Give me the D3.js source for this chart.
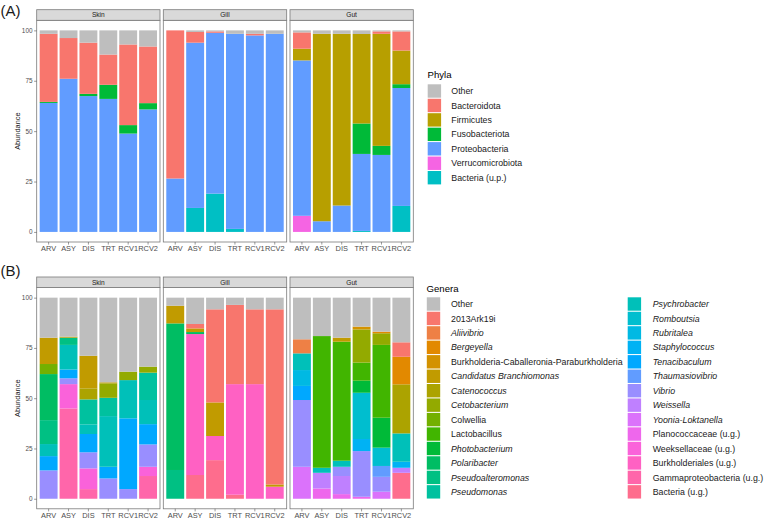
<!DOCTYPE html>
<html><head><meta charset="utf-8">
<script src="https://cdn.jsdelivr.net/npm/d3@7"></script>
<style>
body{margin:0;background:#fff}
svg{display:block;font-family:"Liberation Sans",Arial,Helvetica,sans-serif}
</style>
</head><body><svg id="chart" width="764" height="521"></svg>
<script>
// ---------------- DATA ----------------
const groups = ["ARV", "ASY", "DIS", "TRT", "RCV1", "RCV2"];
const organs = ["Skin", "Gill", "Gut"];
const yTicks = [0, 25, 50, 75, 100];

const phyla = ["Other", "Bacteroidota", "Firmicutes", "Fusobacteriota", "Proteobacteria", "Verrucomicrobiota", "Bacteria (u.p.)"];
// rows follow `phyla`, columns follow `groups`
const phylaSkin = [
  [1.7, 3.8, 6.1, 12, 7, 8],
  [33.8, 20.2, 25.4, 15, 40, 28.1],
  [0, 0, 0, 0, 0, 0],
  [0.5, 0, 1.1, 7, 4.2, 3.1],
  [64, 76, 67.4, 66, 48.8, 60.8],
  [0, 0, 0, 0, 0, 0],
  [0, 0, 0, 0, 0, 0]
];
const phylaGill = [
  [0, 0.8, 0.5, 1.7, 1.7, 1.7],
  [73.5, 5.3, 0.7, 0, 0.8, 0],
  [0, 0, 0, 0, 0, 0],
  [0, 0, 0, 0, 0, 0],
  [26.5, 82, 79.8, 96.8, 97.5, 98.3],
  [0, 0, 0, 0, 0, 0],
  [0, 11.9, 19, 1.5, 0, 0]
];
const phylaGut = [
  [1, 1.7, 1.7, 1.8, 0.5, 0.5],
  [8.1, 0, 0, 0, 1.2, 9.5],
  [5.8, 93, 85.2, 44.4, 55.6, 16.7],
  [0, 0, 0, 15.1, 4.5, 1.9],
  [77.1, 5.3, 13.1, 38.2, 38.2, 58.5],
  [8, 0, 0, 0, 0, 0],
  [0, 0, 0, 0.5, 0, 12.9]
];

const genera = ["Other", "2013Ark19i", "Aliivibrio", "Bergeyella", "Burkholderia-Caballeronia-Paraburkholderia",
  "Candidatus Branchiomonas", "Catenococcus", "Cetobacterium", "Colwellia", "Lactobacillus", "Photobacterium",
  "Polaribacter", "Pseudoalteromonas", "Pseudomonas", "Psychrobacter", "Romboutsia", "Rubritalea",
  "Staphylococcus", "Tenacibaculum", "Thaumasiovibrio", "Vibrio", "Weissella", "Yoonia-Loktanella",
  "Planococcaceae (u.g.)", "Weeksellaceae (u.g.)", "Burkholderiales (u.g.)", "Gammaproteobacteria (u.g.)", "Bacteria (u.g.)"];
const italicGenera = ["Aliivibrio", "Bergeyella", "Candidatus Branchiomonas", "Catenococcus", "Cetobacterium",
  "Photobacterium", "Polaribacter", "Pseudoalteromonas", "Pseudomonas", "Psychrobacter", "Romboutsia", "Rubritalea",
  "Staphylococcus", "Tenacibaculum", "Thaumasiovibrio", "Vibrio", "Weissella", "Yoonia-Loktanella"];

// rows follow `genera`, columns follow `groups`
const generaSkin = [
  [19.9, 19.4, 28.9, 42.1, 36.8, 34.3],
  [0, 0, 0, 0, 0, 0],
  [0, 0, 0, 0, 0, 0],
  [0, 0, 0, 0, 0, 0],
  [0, 0, 0, 0, 0, 0],
  [13.1, 0.5, 16.2, 0.5, 0, 0],
  [0, 0, 5.5, 0, 0, 0],
  [0, 0, 0, 7.2, 4.2, 3.0],
  [5.0, 0, 0, 0, 0, 0],
  [0, 0, 0, 0, 0, 0],
  [0, 0, 0, 0, 0, 0],
  [22.9, 0, 0, 0, 0, 0],
  [11.9, 3.6, 0, 0, 0, 0],
  [0, 0, 12.4, 9.1, 0, 13.6],
  [6.0, 12.2, 4.8, 25.2, 19.0, 12.0],
  [0, 0, 0, 0, 0, 0],
  [0, 0, 0, 0, 0, 0],
  [0, 0, 0, 0, 0, 0],
  [7.1, 4.4, 9.1, 5.8, 35.2, 10.1],
  [0, 0, 0, 0, 0, 0],
  [14.1, 2.9, 8.0, 10.1, 4.8, 11.1],
  [0, 0, 0, 0, 0, 0],
  [0, 0, 0, 0, 0, 0],
  [0, 0, 0, 0, 0, 0],
  [0, 12.1, 10.3, 0, 0, 4.6],
  [0, 0, 0, 0, 0, 0],
  [0, 44.9, 4.8, 0, 0, 11.3],
  [0, 0, 0, 0, 0, 0]
];
const generaGill = [
  [4.0, 13.1, 5.8, 3.6, 5.8, 5.8],
  [0, 2.2, 46.3, 39.4, 37.2, 87.1],
  [0, 0, 0, 0, 0, 0],
  [0, 0, 0, 0, 0, 0],
  [0, 0, 0, 0, 0, 0],
  [8.8, 1.8, 16.7, 0, 0, 1.1],
  [0, 0, 0, 0, 0, 0],
  [0, 0, 0, 0, 0, 0],
  [0, 0, 0, 0, 0, 0],
  [0, 0, 0, 0, 0, 0],
  [0, 0, 0, 0, 0, 0],
  [72.9, 1.0, 0, 0, 0, 0],
  [14.3, 0, 0, 0, 0, 0],
  [0, 0, 0, 0, 0, 0],
  [0, 0, 0, 0, 0, 0],
  [0, 0, 0, 0, 0, 0],
  [0, 0, 0, 0, 0, 0],
  [0, 0, 0, 0, 0, 0],
  [0, 0, 0, 0, 0, 0],
  [0, 0, 0, 0, 0, 0],
  [0, 0, 0, 0, 0, 0],
  [0, 0, 0, 0, 0, 0],
  [0, 0, 0, 0, 0, 0],
  [0, 0, 0, 0, 0, 0],
  [0, 0, 0, 0, 0, 0],
  [0, 70.1, 12.0, 55.0, 57.0, 6.0],
  [0, 0, 0, 0, 0, 0],
  [0, 11.8, 19.2, 2.0, 0, 0]
];
const generaGut = [
  [20.7, 19.1, 19.9, 14.4, 16.9, 22.2],
  [0, 0, 0, 0, 0, 7.2],
  [7.0, 0, 0, 0, 0, 0],
  [0, 0, 0, 0, 0.8, 13.7],
  [0, 0, 0, 1.4, 0, 0],
  [0, 0, 2.0, 0, 0, 0],
  [0, 0, 0, 0, 0, 24.4],
  [0, 0, 0, 16.5, 5.8, 0],
  [0, 0, 0, 0, 0, 0],
  [0, 65.5, 59.2, 9.0, 36.2, 0],
  [0, 0, 0, 6.0, 14.9, 0],
  [0, 0, 0, 0, 0, 0],
  [0, 0, 0, 0, 0, 0],
  [0, 0, 0, 0, 0, 0],
  [8.3, 2.5, 3.0, 0, 0, 14.1],
  [0, 0, 0, 23.0, 9.1, 0],
  [7.9, 0, 0, 0, 0, 0],
  [0, 0, 0, 6.0, 0, 3.0],
  [7.0, 0, 0, 0, 0, 0],
  [0, 0, 0, 0, 5.4, 0],
  [33.2, 0, 4.6, 22.7, 7.4, 0],
  [0, 7.8, 9.0, 0, 0, 2.5],
  [15.9, 0, 0, 0, 3.5, 0],
  [0, 5.1, 2.3, 1.0, 0, 0],
  [0, 0, 0, 0, 0, 0],
  [0, 0, 0, 0, 0, 0],
  [0, 0, 0, 0, 0, 0],
  [0, 0, 0, 0, 0, 12.9]
];

// ---------------- COLOURS ----------------
// R-style hcl() (polar CIE-LUV) -> sRGB, as used by ggplot2's hue palette
function hclLuv(h, c, l) {
  const hr = h * Math.PI / 180;
  const U = c * Math.cos(hr), V = c * Math.sin(hr);
  const Xn = 95.047, Yn = 100, Zn = 108.883;
  const Y = l > 8 ? Yn * Math.pow((l + 16) / 116, 3) : Yn * l / 903.3;
  const den = Xn + 15 * Yn + 3 * Zn;
  const un = 4 * Xn / den, vn = 9 * Yn / den;
  const u = U / (13 * l) + un, v = V / (13 * l) + vn;
  const X = 9 * Y * u / (4 * v);
  const Z = -X / 3 - 5 * Y + 3 * Y / v;
  const x = X / 100, y = Y / 100, z = Z / 100;
  const lin = [
    3.240479 * x - 1.537150 * y - 0.498535 * z,
    -0.969256 * x + 1.875992 * y + 0.041556 * z,
    0.055648 * x - 0.204043 * y + 1.057311 * z
  ];
  const g = lin.map(t => {
    const s = t <= 0.0031308 ? 12.92 * t : 1.055 * Math.pow(t, 1 / 2.4) - 0.055;
    return Math.round(Math.max(0, Math.min(1, s)) * 255);
  });
  return d3.rgb(g[0], g[1], g[2]).formatHex();
}
const greyOther = "#BEBEBE";
const phylaColors = [greyOther, "#F8766D", "#B79F00", "#00BA38", "#619CFF", "#F564E3", "#00BFC4"];
const nG = genera.length - 1;
const generaColors = [greyOther].concat(d3.range(nG).map(i => hclLuv(15 + i * 360 / nG, 100, 65)));

// ---------------- LAYOUT ----------------
const svg = d3.select("#chart");
const panelX = [[36.7, 160], [163.3, 286.7], [290, 413.3]];
const FONT = '"Liberation Sans",Arial,Helvetica,sans-serif';

function drawFacets(cfg, taxa, colors, mats) {
  const y = d3.scaleLinear().domain([-5, 105]).range([cfg.panelBottom, cfg.stripBottom]);
  const g = svg.append("g");
  organs.forEach((organ, i) => {
    const [x0, x1] = panelX[i];
    const x = d3.scaleBand().domain(groups).range([x0, x1]).paddingInner(0.1).paddingOuter(0.15);
    const rows = groups.map((grp, j) => {
      const r = { group: grp };
      taxa.forEach((t, k) => { r[t] = mats[i][k][j]; });
      return r;
    });
    const keys = taxa.slice().reverse();
    const series = d3.stack().keys(keys)(rows);
    const pg = g.append("g");
    pg.append("rect").attr("x", x0).attr("y", cfg.stripBottom).attr("width", x1 - x0)
      .attr("height", cfg.panelBottom - cfg.stripBottom).attr("fill", "#fff");
    series.forEach(s => {
      const col = colors[taxa.indexOf(s.key)];
      pg.selectAll(null).data(s.filter(d => d[1] - d[0] > 0)).enter().append("rect")
        .attr("x", d => x(d.data.group))
        .attr("width", x.bandwidth())
        .attr("y", d => y(d[1]))
        .attr("height", d => y(d[0]) - y(d[1]))
        .attr("fill", col);
    });
    pg.append("rect").attr("x", x0).attr("y", cfg.stripBottom).attr("width", x1 - x0)
      .attr("height", cfg.panelBottom - cfg.stripBottom).attr("fill", "none")
      .attr("stroke", "#7a7a7a").attr("stroke-width", 0.8);
    // strip
    pg.append("rect").attr("x", x0).attr("y", cfg.stripTop).attr("width", x1 - x0)
      .attr("height", cfg.stripBottom - cfg.stripTop).attr("fill", "#D9D9D9")
      .attr("stroke", "#7a7a7a").attr("stroke-width", 0.8);
    pg.append("text").attr("x", (x0 + x1) / 2).attr("y", (cfg.stripTop + cfg.stripBottom) / 2 + 2.3)
      .attr("text-anchor", "middle").attr("font-size", 6.6).attr("fill", "#1a1a1a").text(organ);
    // x axis
    const ax = pg.append("g").attr("transform", `translate(0,${cfg.panelBottom})`)
      .call(d3.axisBottom(x).tickSize(2.6).tickPadding(1.6));
    ax.select(".domain").remove();
    ax.selectAll(".tick line").attr("stroke", "#555").attr("stroke-width", 0.6);
    ax.selectAll("text").attr("font-size", 7.4).attr("fill", "#4d4d4d").attr("font-family", FONT);
    if (i === 0) {
      const ay = pg.append("g").attr("transform", `translate(${x0},0)`)
        .call(d3.axisLeft(y).tickValues(yTicks).tickSize(2.6).tickPadding(1.6));
      ay.select(".domain").remove();
      ay.selectAll(".tick line").attr("stroke", "#555").attr("stroke-width", 0.6);
      ay.selectAll("text").attr("font-size", 6.4).attr("fill", "#4d4d4d").attr("font-family", FONT);
      pg.append("text")
        .attr("transform", `translate(19.5,${(cfg.stripBottom + cfg.panelBottom) / 2}) rotate(-90)`)
        .attr("text-anchor", "middle").attr("font-size", 7.4).attr("fill", "#1a1a1a").text("Abundance");
    }
  });
  svg.append("text").attr("x", 0.5).attr("y", cfg.labelY).attr("font-size", 15).attr("fill", "#1a1a1a").text(cfg.label);
}

function drawLegend(cfg, title, taxa, colors) {
  const g = svg.append("g");
  g.append("text").attr("x", cfg.titleX).attr("y", cfg.titleY).attr("font-size", 9.6).attr("fill", "#000").text(title);
  const step = 14.45, size = 13.4;
  taxa.forEach((t, k) => {
    const col = Math.floor(k / cfg.perCol), row = k % cfg.perCol;
    const kx = cfg.keyX[col], ky = cfg.keyTop + row * step;
    g.append("rect").attr("x", kx).attr("y", ky).attr("width", size).attr("height", size).attr("fill", colors[k]);
    g.append("text").attr("x", cfg.labelX[col]).attr("y", ky + size / 2 + 3.1)
      .attr("font-size", 8.8).attr("fill", "#1a1a1a")
      .attr("font-style", italicGenera.includes(t) ? "italic" : "normal").text(t);
  });
}

drawFacets({ stripTop: 9.7, stripBottom: 20.3, panelBottom: 242, labelY: 15.5, label: "(A)" },
  phyla, phylaColors, [phylaSkin, phylaGill, phylaGut]);
drawFacets({ stripTop: 277, stripBottom: 287.6, panelBottom: 508.8, labelY: 275.5, label: "(B)" },
  genera, generaColors, [generaSkin, generaGill, generaGut]);

drawLegend({ titleX: 427.5, titleY: 78, keyTop: 84.3, perCol: 7, keyX: [427.7], labelX: [451.3] },
  "Phyla", phyla, phylaColors);
drawLegend({ titleX: 426.5, titleY: 291.8, keyTop: 297.3, perCol: 14, keyX: [426.8, 627.7], labelX: [451, 652.7] },
  "Genera", genera, generaColors);
</script></body></html>
